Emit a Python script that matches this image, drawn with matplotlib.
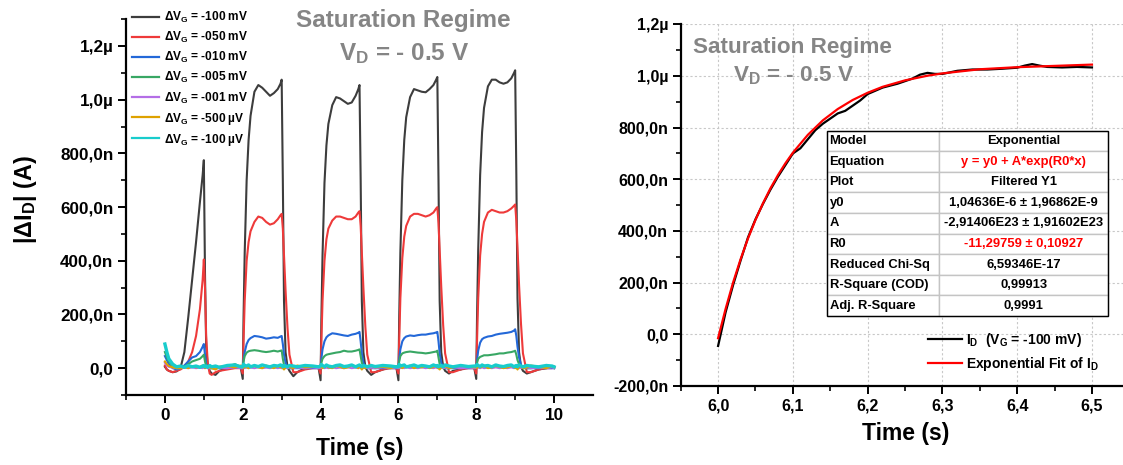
import matplotlib
matplotlib.use("Agg")
import matplotlib.pyplot as plt
import numpy as np
from matplotlib.ticker import FuncFormatter, FixedLocator
from matplotlib.patches import Rectangle

plt.rcParams.update({
    "font.family": ["Liberation Sans", "DejaVu Sans"],
    "font.weight": "bold",
    "mathtext.fontset": "custom",
    "mathtext.rm": "Liberation Sans",
    "mathtext.bf": "Liberation Sans:bold",
    "mathtext.it": "Liberation Sans:italic",
    "mathtext.sf": "Liberation Sans",
})

# ---------------- data: left panel (time in s, |dI_D| in nA) ----------------
time_segments = [
    [0, 0.05, 0.1, 0.2, 0.3, 0.4, 0.5, 0.6, 0.7, 0.8, 0.9, 0.97, 1.0, 1.03, 1.06, 1.1, 1.15, 1.2, 1.3, 1.4, 1.6, 1.8, 1.95],
    [2.0, 2.02, 2.05, 2.1, 2.15, 2.2, 2.3, 2.4, 2.5, 2.6, 2.7, 2.8, 2.9, 2.97, 3.0, 3.03, 3.06, 3.1, 3.15, 3.2, 3.3, 3.4, 3.6, 3.8, 3.95],
    [4.0, 4.02, 4.05, 4.1, 4.15, 4.2, 4.3, 4.4, 4.5, 4.6, 4.7, 4.8, 4.9, 4.97, 5.0, 5.03, 5.06, 5.1, 5.15, 5.2, 5.3, 5.4, 5.6, 5.8, 5.95],
    [6.0, 6.02, 6.05, 6.1, 6.15, 6.2, 6.3, 6.4, 6.5, 6.6, 6.7, 6.8, 6.9, 6.97, 7.0, 7.03, 7.06, 7.1, 7.15, 7.2, 7.3, 7.4, 7.6, 7.8, 7.95],
    [8.0, 8.02, 8.05, 8.1, 8.15, 8.2, 8.3, 8.4, 8.5, 8.6, 8.7, 8.8, 8.9, 8.97, 9.0, 9.03, 9.06, 9.1, 9.15, 9.2, 9.3, 9.4, 9.6, 9.8, 9.95, 10.0],
]

dvg_100mV = [
    [5, -5, -10, -15, -12, 0, 60, 190, 330, 470, 620, 720, 775, 350, 80, 10, -10, -20, -25, -10, 0, 5, 0],
    [-40, 185, 430, 700, 850, 940, 1030, 1055, 1045, 1030, 1015, 1025, 1040, 1060, 1075, 700, 250, 60, 5, -10, -30, -15, 0, 5, 0],
    [-45, 180, 420, 690, 830, 910, 980, 1010, 1005, 995, 985, 990, 1015, 1040, 1055, 700, 250, 60, 5, -10, -25, -15, -5, 5, 0],
    [-45, 185, 430, 700, 850, 935, 1010, 1040, 1035, 1030, 1028, 1040, 1055, 1075, 1085, 700, 250, 60, 5, -10, -20, -10, -5, 5, 0],
    [-40, 190, 440, 720, 880, 970, 1050, 1075, 1075, 1065, 1060, 1065, 1080, 1100, 1110, 720, 260, 60, 5, -10, -20, -15, -5, 0, 5, 0],
]
dvg_050mV = [
    [10, -5, -10, -15, -10, -5, 5, 25, 60, 120, 220, 330, 405, 300, 120, 20, -20, -25, -15, -10, -5, 0, 0],
    [-20, 100, 250, 400, 470, 510, 545, 565, 560, 545, 535, 540, 555, 570, 575, 520, 420, 290, 150, 50, -15, -15, -5, 0, 0],
    [-20, 100, 250, 400, 480, 520, 550, 565, 565, 560, 555, 555, 565, 580, 585, 530, 430, 300, 155, 50, -15, -15, -5, 0, 0],
    [-20, 100, 260, 410, 490, 530, 565, 575, 575, 570, 565, 570, 580, 595, 600, 540, 440, 305, 160, 55, -15, -15, -5, 0, 0],
    [-20, 100, 260, 420, 500, 545, 580, 590, 585, 580, 580, 585, 595, 605, 610, 550, 450, 310, 165, 55, -15, -15, -5, 0, 0, 5],
]
dvg_010mV = [
    [45, 30, 15, 0, -5, 0, 10, 25, 40, 45, 60, 80, 90, 50, 15, 5, 0, 0, 0, 0, 0, 5, 0],
    [0, 30, 60, 90, 105, 112, 120, 118, 115, 110, 112, 115, 113, 118, 120, 90, 50, 20, 5, 0, 0, 0, 0, 0, 0],
    [0, 35, 70, 100, 115, 122, 130, 128, 125, 122, 120, 125, 128, 132, 135, 100, 55, 20, 5, 0, 0, 0, 0, 0, 0],
    [0, 35, 70, 100, 112, 118, 122, 120, 123, 125, 125, 128, 130, 133, 135, 100, 55, 20, 5, 0, 0, 0, 0, 0, 0],
    [0, 30, 65, 95, 108, 113, 118, 120, 125, 128, 130, 132, 135, 140, 145, 120, 80, 40, 12, 3, 0, 0, 0, 0, 0, 0],
]
dvg_005mV = [
    [60, 40, 25, 10, 0, 0, 5, 15, 25, 30, 35, 45, 50, 25, 8, 3, 0, 0, 0, 5, 5, 15, 5],
    [5, 25, 45, 58, 63, 65, 67, 65, 62, 60, 62, 65, 62, 65, 66, 35, 12, 3, 0, 0, 0, 5, 5, 5, 5],
    [5, 20, 35, 45, 50, 52, 55, 58, 60, 65, 62, 62, 65, 68, 70, 45, 20, 8, 2, 0, 0, 5, 5, 5, 5],
    [5, 25, 45, 55, 58, 60, 62, 60, 58, 57, 55, 57, 60, 62, 65, 40, 15, 5, 0, 0, 0, 5, 5, 5, 5],
    [5, 20, 35, 42, 45, 48, 48, 50, 52, 55, 55, 58, 60, 63, 65, 50, 30, 15, 5, 0, 0, 0, 5, 5, 5, 5],
]
dvg_001mV = [
    [20, 10, 5, 2, 0, 0, 2, 0, 3, 0, 2, 0, 3, 0, 2, 0, 0, 3, 0, 2, 0, 3, 0],
    [0, 2, 0, 3, 0, 2, 0, 3, 0, 2, 0, 3, 0, 2, 0, 3, 0, 2, 0, 3, 0, 2, 0, 3, 0],
    [2, 0, 3, 0, 2, 0, 3, 0, 2, 0, 3, 0, 2, 0, 3, 0, 2, 0, 3, 0, 2, 0, 3, 0, 2],
    [0, 3, 0, 2, 0, 3, 0, 2, 0, 3, 0, 2, 0, 3, 0, 2, 0, 3, 0, 2, 0, 3, 0, 2, 0],
    [3, 0, 2, 0, 3, 0, 2, 0, 3, 0, 2, 0, 3, 0, 2, 0, 3, 0, 2, 0, 3, 0, 2, 0, 3, 0],
]
dvg_500uV = [
    [25, 15, 8, 3, 0, 0, 5, 0, 8, 3, 5, 10, 5, 0, 5, 8, 3, 0, -5, 5, 8, 3, 10],
    [5, 0, 8, 3, 0, 5, 8, 3, 0, 10, 5, 0, 8, 3, 5, 0, -5, 3, 8, 5, 0, 10, 3, 5, 8],
    [3, 8, 0, 5, 10, 3, 0, 8, 5, 0, 3, 10, 5, 0, 8, 3, -5, 5, 0, 8, 10, 3, 5, 0, 8],
    [8, 3, 5, 0, 8, 3, 10, 0, 5, 3, 8, 0, 5, 10, 3, 0, -5, 3, 5, 8, 0, 3, 10, 5, 3],
    [5, 0, 8, 3, 5, 10, 0, 3, 8, 5, 0, 3, 8, 5, 0, 3, -5, 5, 8, 0, 3, 10, 5, 0, 8, 3],
]
dvg_100uV = [
    [90, 60, 35, 15, 5, 8, 3, 10, 5, 8, 3, 8, 10, 5, 8, 3, 10, 5, 8, 3, 10, 12, 5],
    [5, 15, 10, 8, 12, 5, 10, 6, 12, 8, 5, 10, 8, 12, 10, 5, 10, 8, 5, 10, 8, 5, 10, 8, 5],
    [8, 14, 10, 5, 12, 8, 5, 10, 12, 6, 8, 12, 5, 10, 12, 8, 5, 10, 8, 5, 10, 6, 10, 8, 5],
    [5, 14, 8, 10, 12, 5, 8, 12, 6, 10, 8, 5, 12, 8, 10, 5, 8, 10, 5, 12, 8, 5, 10, 6, 8],
    [8, 14, 10, 6, 12, 8, 10, 5, 12, 8, 6, 10, 12, 5, 8, 10, 5, 12, 8, 5, 10, 8, 5, 10, 8, 5],
]

series_labels = [r"ΔV$_\mathregular{G}$ = -100 mV", r"ΔV$_\mathregular{G}$ = -050 mV",
                 r"ΔV$_\mathregular{G}$ = -010 mV", r"ΔV$_\mathregular{G}$ = -005 mV",
                 r"ΔV$_\mathregular{G}$ = -001 mV", r"ΔV$_\mathregular{G}$ = -500 µV",
                 r"ΔV$_\mathregular{G}$ = -100 µV"]
series_colors = ["#3d3d3d", "#ee3a3a", "#2368d8", "#38a764", "#b46ee6", "#dea200", "#18cccc"]
series_data = [dvg_100mV, dvg_050mV, dvg_010mV, dvg_005mV, dvg_001mV, dvg_500uV, dvg_100uV]

# ---------------- data: right panel ----------------
fit_t = [6.0, 6.01, 6.02, 6.03, 6.04, 6.05, 6.06, 6.07, 6.08, 6.09, 6.10, 6.12, 6.14, 6.16,
         6.18, 6.20, 6.22, 6.25, 6.28, 6.30, 6.35, 6.40, 6.45, 6.50]
fit_y = [-15, 98, 200, 290, 371, 443, 507, 565, 616, 662, 703, 772, 828, 872,
         907, 935, 958, 983, 1001, 1010, 1026, 1034, 1039, 1044]
meas_t = [6.0, 6.005, 6.01, 6.02, 6.03, 6.04, 6.05, 6.06, 6.07, 6.08, 6.09, 6.10, 6.11, 6.12,
          6.13, 6.14, 6.15, 6.16, 6.17, 6.18, 6.19, 6.20, 6.22, 6.24, 6.26, 6.27, 6.28, 6.29,
          6.30, 6.32, 6.34, 6.36, 6.38, 6.40, 6.41, 6.42, 6.43, 6.44, 6.46, 6.48, 6.50]
meas_y = [-45, 20, 85, 190, 285, 375, 445, 505, 560, 610, 655, 700, 720, 755,
          790, 815, 835, 855, 865, 885, 905, 930, 955, 970, 990, 1005, 1012, 1008,
          1008, 1020, 1025, 1025, 1028, 1032, 1040, 1046, 1040, 1035, 1033, 1035, 1033]

table_rows = [
    ("Model", "Exponential"),
    ("Equation", "y = y0 + A*exp(R0*x)"),
    ("Plot", "Filtered Y1"),
    ("y0", "1,04636E-6 ± 1,96862E-9"),
    ("A", "-2,91406E23 ± 1,91602E23"),
    ("R0", "-11,29759 ± 0,10927"),
    ("Reduced Chi-Sq", "6,59346E-17"),
    ("R-Square (COD)", "0,99913"),
    ("Adj. R-Square", "0,9991"),
]
red_rows = [1, 5]

# ---------------- figure ----------------
W, H = 1123, 465
fig = plt.figure(figsize=(W / 100, H / 100), dpi=100)


def px_axes(x0, y0, x1, y1):
    return fig.add_axes([x0 / W, 1 - y1 / H, (x1 - x0) / W, (y1 - y0) / H])


def si_fmt(v, pos):
    if abs(v) < 1e-12:
        return "0,0"
    if abs(v) >= 1e-6 - 1e-12:
        s = f"{v * 1e6:.1f}µ"
    else:
        s = f"{v * 1e9:.1f}n"
    return s.replace(".", ",")


def style_axes(ax, lsize):
    for sp in ("top", "right"):
        ax.spines[sp].set_visible(False)
    for sp in ("left", "bottom"):
        ax.spines[sp].set_linewidth(1.6)
    ax.tick_params(which="major", direction="out", length=6, width=1.4, labelsize=lsize, pad=3)
    ax.tick_params(which="minor", direction="out", length=3.5, width=1.2)
    for lab in ax.get_xticklabels() + ax.get_yticklabels():
        lab.set_fontweight("bold")


# ---- left ----
axL = px_axes(126, 19.3, 593, 395)
tt = [t for seg in time_segments for t in seg]
for data, col, lab in zip(series_data, series_colors, series_labels):
    yy = np.array([v for seg in data for v in seg], dtype=float) * 1e-9
    lw = 2.4 if col == "#18cccc" else 1.5
    axL.plot(tt, yy, color=col, lw=lw, label=lab)
axL.set_xlim(-1, 11)
axL.set_ylim(-1e-7, 1.3e-6)
axL.xaxis.set_major_locator(FixedLocator([0, 2, 4, 6, 8, 10]))
axL.xaxis.set_minor_locator(FixedLocator([-1, 1, 3, 5, 7, 9]))
axL.yaxis.set_major_locator(FixedLocator([0, 2e-7, 4e-7, 6e-7, 8e-7, 1e-6, 1.2e-6]))
axL.yaxis.set_minor_locator(FixedLocator([-1e-7, 1e-7, 3e-7, 5e-7, 7e-7, 9e-7, 1.1e-6, 1.3e-6]))
axL.yaxis.set_major_formatter(FuncFormatter(si_fmt))
style_axes(axL, 12.3)
axL.set_xlabel("Time (s)", fontsize=16.5, fontweight="bold")
axL.xaxis.set_label_coords(0.5, -0.112)
axL.set_ylabel(r"|ΔI$_\mathbf{D}$| (A)", fontsize=16.8, fontweight="bold")
axL.yaxis.set_label_coords(-0.187, 0.52)
legL = axL.legend(loc="upper left", bbox_to_anchor=(132 / W, 1 - 10 / H),
                  bbox_transform=fig.transFigure, frameon=False, fontsize=8.6,
                  handlelength=2.3, handletextpad=0.35, labelspacing=0.42,
                  borderpad=0, borderaxespad=0)
for t in legL.get_texts():
    t.set_fontweight("bold")
for ln in legL.get_lines():
    ln.set_linewidth(1.6)

fig.text(403.6 / W, 1 - 20.7 / H, "Saturation Regime", fontsize=17.5, fontweight="bold",
         color="#858585", ha="center", va="center")
fig.text(404.5 / W, 1 - 53.3 / H, r"V$_\mathbf{D}$ = - 0.5 V", fontsize=17.5, fontweight="bold",
         color="#858585", ha="center", va="center")

# ---- right ----
axR = px_axes(680.7, 24.3, 1123, 386)
axR.grid(True, which="major", color="#c8c8c8", lw=0.8, ls=(0, (2, 2)))
axR.set_axisbelow(True)
axR.plot(meas_t, np.array(meas_y) * 1e-9, color="black", lw=1.6, label=r"I$_\mathbf{D}$  (V$_\mathbf{G}$ = -100 mV)")
axR.plot(fit_t, np.array(fit_y) * 1e-9, color="#ff0000", lw=1.6, label=r"Exponential Fit of I$_\mathbf{D}$")
axR.set_xlim(5.95, 6.5415)
axR.set_ylim(-2e-7, 1.2e-6)
axR.xaxis.set_major_locator(FixedLocator([6.0, 6.1, 6.2, 6.3, 6.4, 6.5]))
axR.xaxis.set_minor_locator(FixedLocator([5.95, 6.05, 6.15, 6.25, 6.35, 6.45]))
axR.xaxis.set_major_formatter(FuncFormatter(lambda v, p: f"{v:.1f}".replace(".", ",")))
axR.yaxis.set_major_locator(FixedLocator([-2e-7, 0, 2e-7, 4e-7, 6e-7, 8e-7, 1e-6, 1.2e-6]))
axR.yaxis.set_minor_locator(FixedLocator([-1e-7, 1e-7, 3e-7, 5e-7, 7e-7, 9e-7, 1.1e-6]))
axR.yaxis.set_major_formatter(FuncFormatter(si_fmt))
style_axes(axR, 11.5)
axR.set_xlabel("Time (s)", fontsize=16.5, fontweight="bold")
axR.xaxis.set_label_coords(0.509, -0.1)
legR = axR.legend(loc="upper left", bbox_to_anchor=(928 / W, 1 - 331 / H),
                  bbox_transform=fig.transFigure, frameon=False, fontsize=10,
                  handlelength=2.45, handletextpad=0.3, labelspacing=0.45,
                  borderpad=0, borderaxespad=0)
for t in legR.get_texts():
    t.set_fontweight("bold")

fig.text(792 / W, 1 - 47 / H, "Saturation Regime", fontsize=16.2, fontweight="bold",
         color="#858585", ha="center", va="center")
fig.text(793 / W, 1 - 76 / H, r"V$_\mathbf{D}$ = - 0.5 V", fontsize=16.2, fontweight="bold",
         color="#858585", ha="center", va="center")

# table
tx0, ty0, tx1, ty1 = 827.3, 130.7, 1108.3, 316
ax_w, ax_h = 1123 - 680.7, 386 - 24.3
bbox = [(tx0 - 680.7) / ax_w, (386 - ty1) / ax_h, (tx1 - tx0) / ax_w, (ty1 - ty0) / ax_h]
tab = axR.table(cellText=[list(r) for r in table_rows], colWidths=[0.3975, 0.6025],
                bbox=bbox, cellLoc="center")
tab.auto_set_font_size(False)
for (r, c), cell in tab.get_celld().items():
    cell.set_edgecolor("#c4c4c4")
    cell.set_linewidth(1.0)
    cell.set_facecolor("white")
    txt = cell.get_text()
    txt.set_fontsize(9.4)
    txt.set_fontweight("bold")
    if c == 0:
        txt.set_ha("left")
        cell._loc = "left"
        cell.PAD = 0.02
    if c == 1 and r in red_rows:
        txt.set_color("#ff0000")
tab.set_zorder(5)
axR.add_patch(Rectangle((bbox[0], bbox[1]), bbox[2], bbox[3], transform=axR.transAxes,
                        fill=False, edgecolor="black", lw=1.0, zorder=6, clip_on=False))

fig.savefig("out.png", dpi=100)
